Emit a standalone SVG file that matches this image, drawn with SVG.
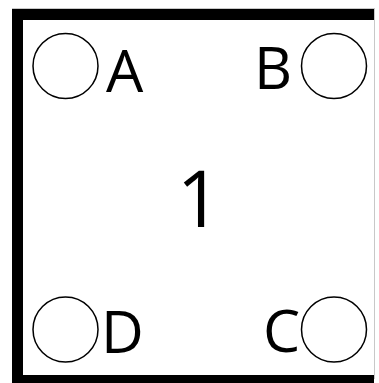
<svg xmlns="http://www.w3.org/2000/svg" width="379" height="383" viewBox="0 0 379 383">
<style>
.port{fill:#fff;stroke:#000;stroke-width:1.5}
.lbl{font-family:"Open Sans",sans-serif;font-size:59px;fill:#000}
.num{font-family:"Open Sans",sans-serif;font-size:78px;fill:#000}
</style>
<rect width="379" height="383" fill="#fff"/>
<g id="node-1">
<rect x="12.5" y="8.5" width="362" height="370" fill="#fff" stroke="#c8c8c8" stroke-width="1"/>
<path d="M17.5 383 V14.5 H374" fill="none" stroke="#000" stroke-width="11"/>
<path d="M12 379 H374" fill="none" stroke="#000" stroke-width="8"/>
<text class="num" x="199" y="227" text-anchor="middle">1</text>
</g>
<g id="port-A"><circle class="port" cx="65.5" cy="66" r="32.5"/><text class="lbl" x="106" y="92">A</text></g>
<g id="port-B"><circle class="port" cx="334" cy="66" r="32.5"/><text class="lbl" x="254" y="89">B</text></g>
<g id="port-D"><circle class="port" cx="65.5" cy="329.5" r="32.5"/><text class="lbl" x="101" y="353">D</text></g>
<g id="port-C"><circle class="port" cx="334" cy="329.5" r="32.5"/><text class="lbl" x="263" y="352">C</text></g>
<g id="connectors"></g>
</svg>
